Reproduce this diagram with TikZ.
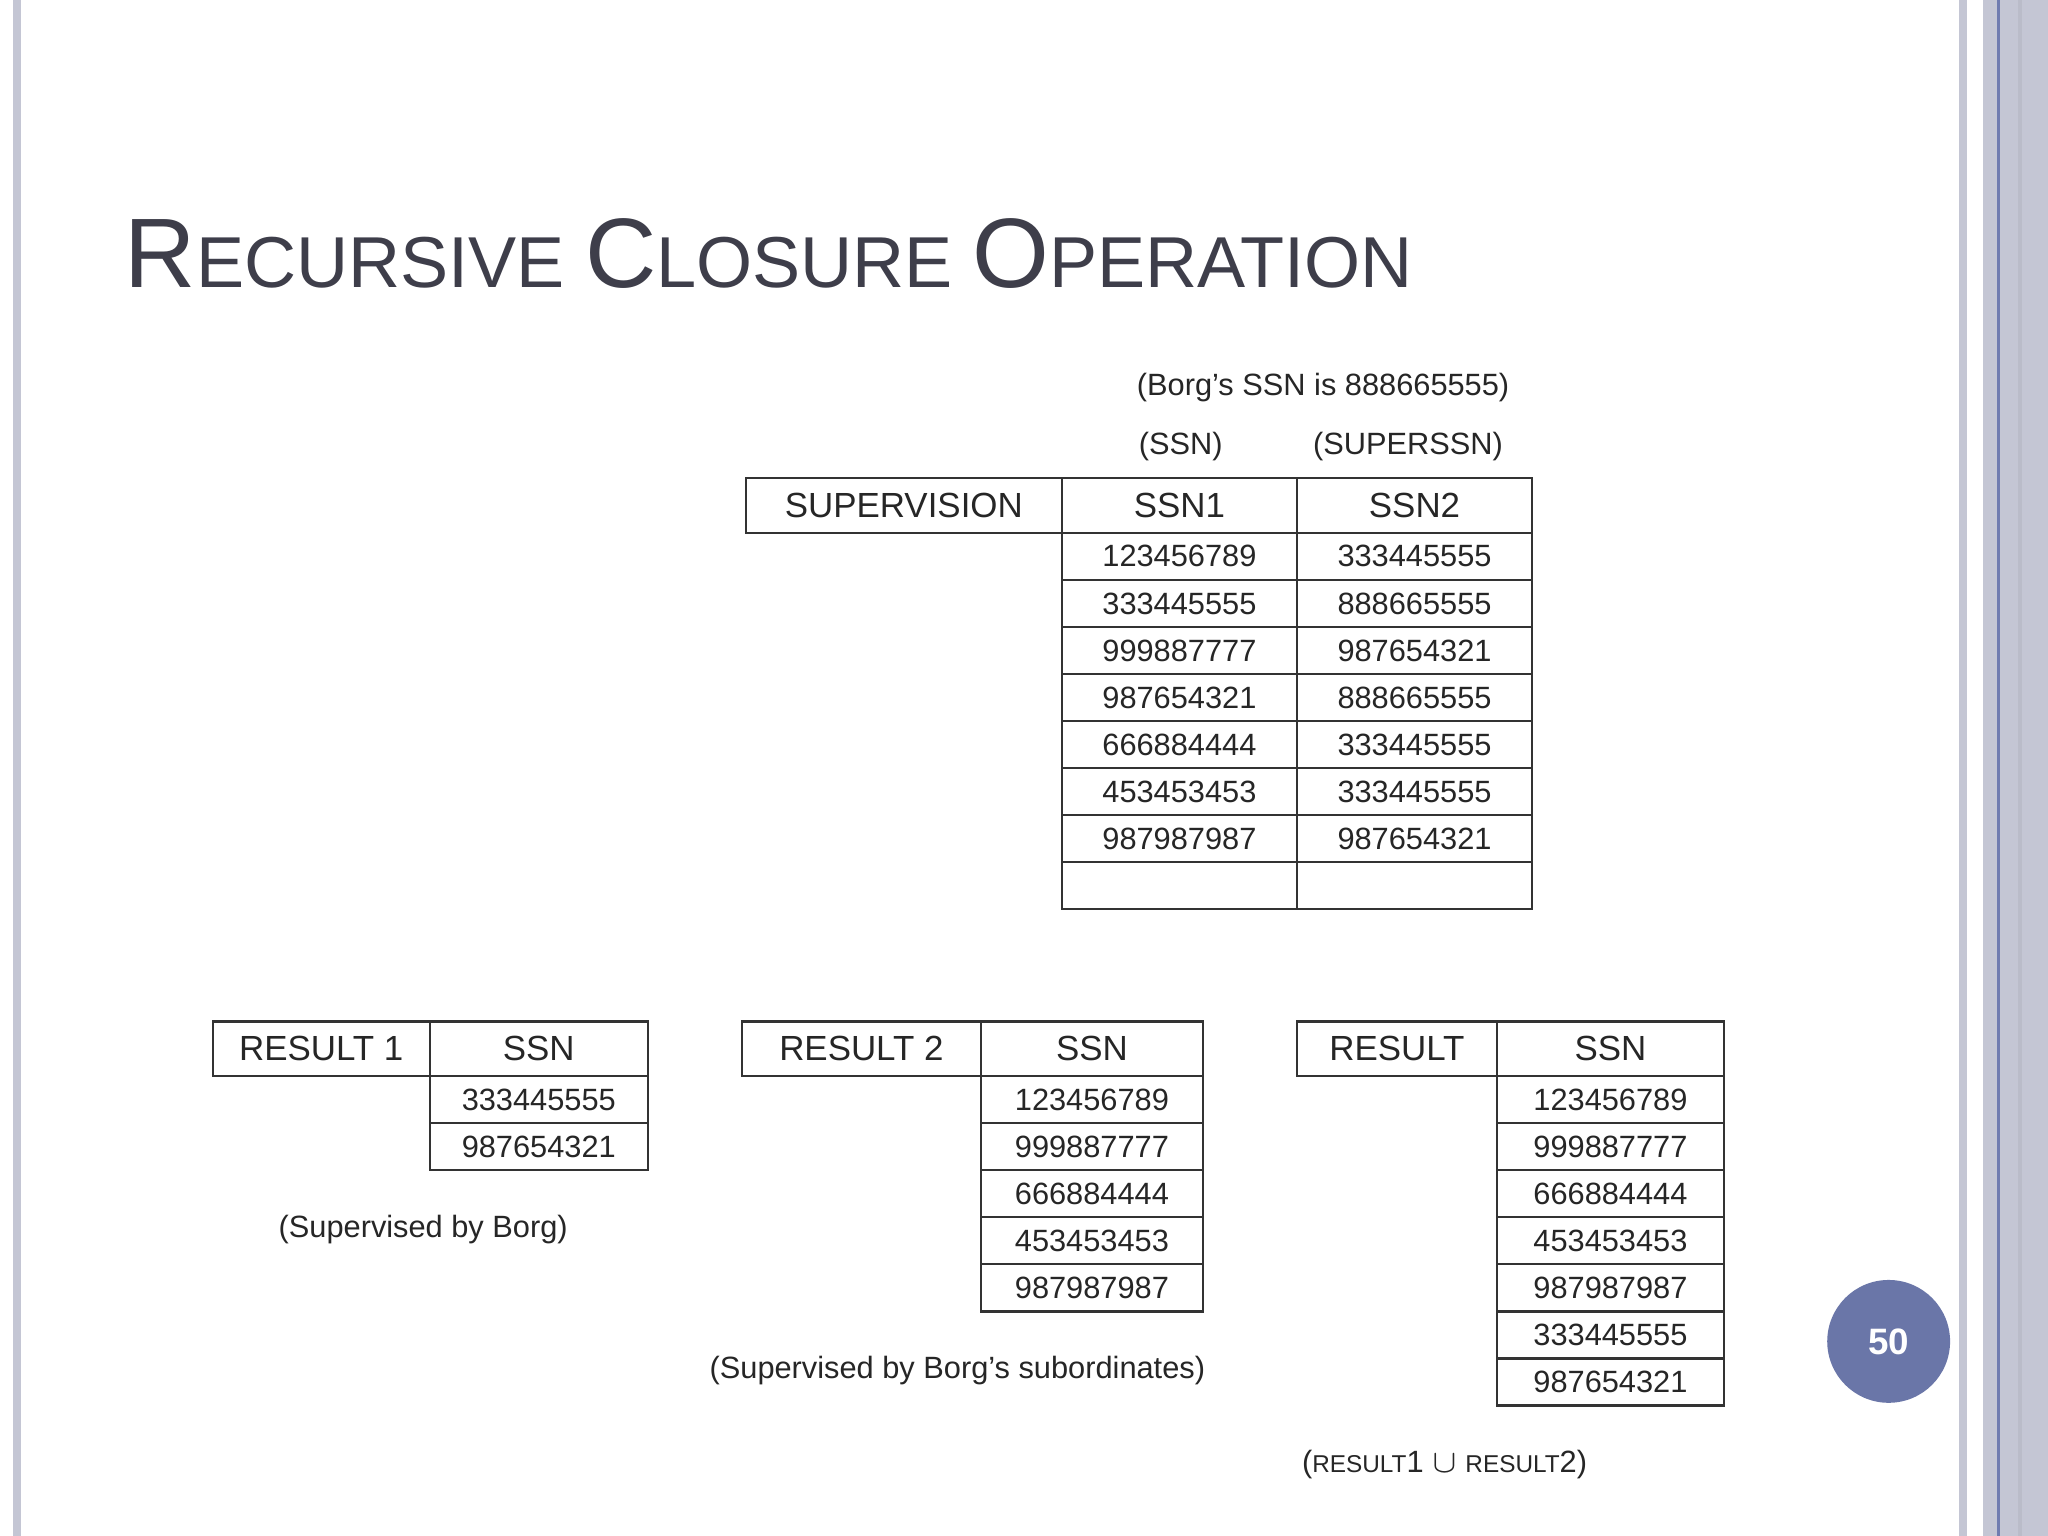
\documentclass[tikz,border=0pt]{standalone}
\usepackage{fontspec}
\setmainfont{Liberation Sans}
\definecolor{titlec}{RGB}{62,62,74}
\definecolor{barc}{RGB}{196,198,212}
\definecolor{linec}{RGB}{112,124,176}
\definecolor{pgc}{RGB}{106,118,168}
\begin{document}
\begin{tikzpicture}[x=0.01cm,y=-0.01cm,
  cell/.style={draw=black!80,line width=0.5pt,minimum height=0.36cm,inner sep=0pt,font=\fontsize{6.7}{8}\selectfont,text=black!85},
  head/.style={cell,minimum height=0.42cm,font=\fontsize{7.6}{9}\selectfont},
  lbl/.style={font=\fontsize{6.7}{8}\selectfont,text=black!85}]
\useasboundingbox (0,0) rectangle (1568,1176);
\fill[white] (0,0) rectangle (1568,1176);
\fill[barc] (10,0) rectangle (16,1176);
\fill[barc] (1500,0) rectangle (1506,1176);
\fill[barc] (1518,0) rectangle (1568,1176);
\draw[linec,line width=0.8pt] (1530,0) -- (1530,1176);
\fill[black!5!barc] (1545,0) rectangle (1548,1176);
\node[anchor=base west,text=titlec,inner sep=0pt] (title) at (95,220)
 {\fontsize{21.5}{24}\selectfont R\fontsize{15.7}{18}\selectfont ECURSIVE \fontsize{21.5}{24}\selectfont C\fontsize{15.7}{18}\selectfont LOSURE \fontsize{21.5}{24}\selectfont O\fontsize{15.7}{18}\selectfont PERATION};
% SUPERVISION
\node[lbl] (borg) at (1013,297) {(Borg's SSN is 888665555)};
\node[lbl] (l1) at (904,342) {(SSN)};
\node[lbl] (l2) at (1078,342) {(SUPERSSN)};
\node[head,minimum width=2.42cm] (sh0) at (692,387) {SUPERVISION};
\node[head,minimum width=1.8cm] (sh1) at (903,387) {SSN1};
\node[head,minimum width=1.8cm] (sh2) at (1083,387) {SSN2};
\foreach \a/\b [count=\i] in {123456789/333445555,333445555/888665555,999887777/987654321,987654321/888665555,666884444/333445555,453453453/333445555,987987987/987654321,{}/{}}{
  \node[cell,minimum width=1.8cm] (sa\i) at (903,390+36*\i) {\a};
  \node[cell,minimum width=1.8cm] (sb\i) at (1083,390+36*\i) {\b};
}
% RESULT1
\node[head,minimum width=1.66cm] (r1h0) at (246,803) {RESULT 1};
\node[head,minimum width=1.67cm] (r1h1) at (412.5,803) {SSN};
\foreach \a [count=\i] in {333445555,987654321}
  \node[cell,minimum width=1.67cm] (r1\i) at (412.5,806+36*\i) {\a};
\node[lbl] (r1l) at (324,941) {(Supervised by Borg)};
% RESULT2
\node[head,minimum width=1.83cm] (r2h0) at (659.5,803) {RESULT 2};
\node[head,minimum width=1.7cm] (r2h1) at (836,803) {SSN};
\foreach \a [count=\i] in {123456789,999887777,666884444,453453453,987987987}
  \node[cell,minimum width=1.7cm] (r2\i) at (836,806+36*\i) {\a};
\node[lbl] (r2l) at (733,1049) {(Supervised by Borg's subordinates)};
% RESULT
\node[head,minimum width=1.53cm] (rh0) at (1069.5,803) {RESULT};
\node[head,minimum width=1.74cm] (rh1) at (1233,803) {SSN};
\foreach \a [count=\i] in {123456789,999887777,666884444,453453453,987987987,333445555,987654321}
  \node[cell,minimum width=1.74cm] (r\i) at (1233,806+36*\i) {\a};
\node[lbl] (rl) at (1106,1121) {(\fontsize{5.3}{7}\selectfont RESULT\fontsize{6.7}{8}\selectfont 1 $\cup$ \fontsize{5.3}{7}\selectfont RESULT\fontsize{6.7}{8}\selectfont 2)};
% page number
\node[circle,fill=pgc,minimum size=0.94cm,inner sep=0pt,text=white,font=\bfseries\fontsize{8}{9}\selectfont] (pg) at (1446,1027) {50};
\end{tikzpicture}
\end{document}
